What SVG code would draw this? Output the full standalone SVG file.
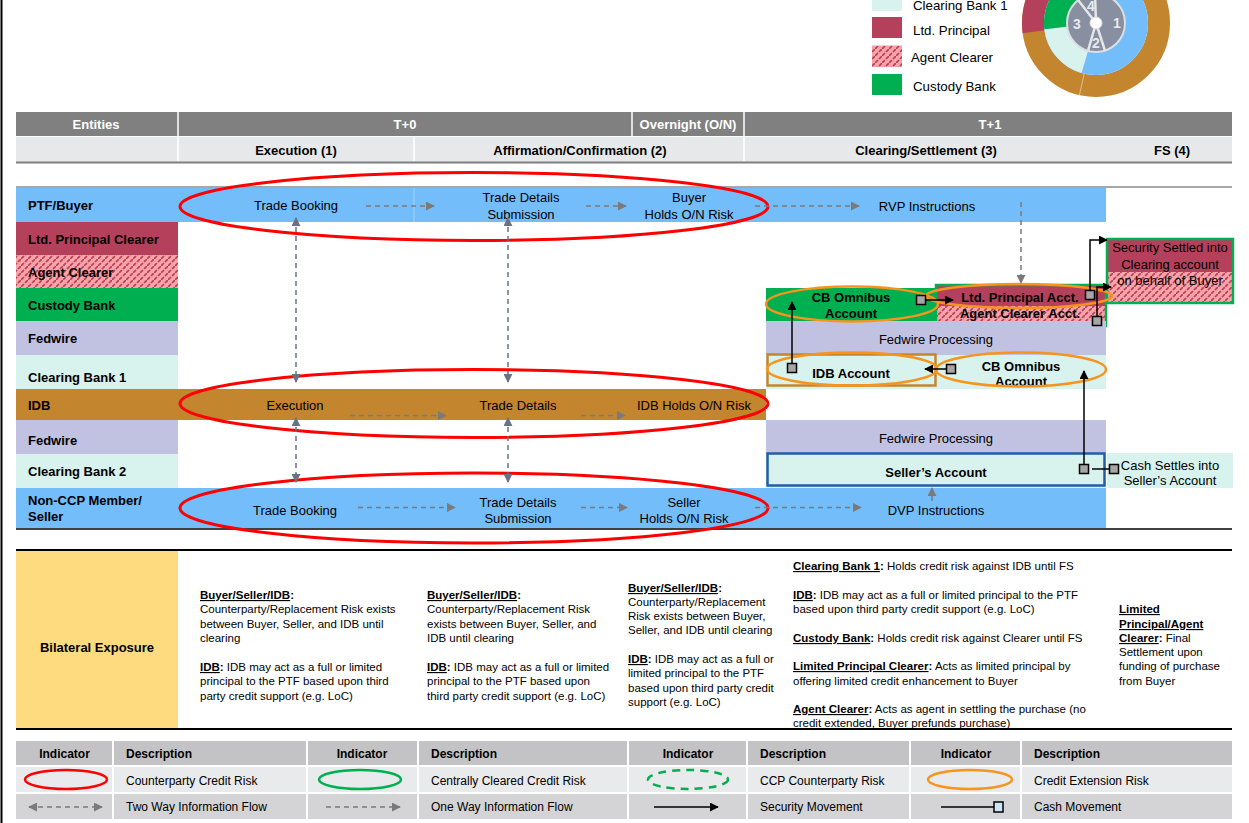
<svg xmlns="http://www.w3.org/2000/svg" width="1249" height="823" viewBox="0 0 1249 823">
<style>
text{font-family:"Liberation Sans",Arial,sans-serif;fill:#000}
.lbl{font-size:13px;font-weight:bold}
.hdr{font-size:13px;font-weight:bold;fill:#fff}
.sub{font-size:13px;font-weight:bold}
.t{font-size:13px;text-anchor:middle}
.tb{font-size:13px;font-weight:bold;text-anchor:middle}
.c{text-anchor:middle}
.b{font-size:11.5px}
.lg{font-size:12px}
.lgh{font-size:12px;font-weight:bold}
.k{font-size:13.3px}
.u{font-weight:bold;text-decoration:underline}
.bo{font-weight:bold}
.dn{font-size:14px;font-weight:bold;fill:#e8eaee}
.dg{stroke:#7a7a7a;stroke-width:1.5;stroke-dasharray:5 4;fill:none}
.ds{stroke:#687285;stroke-width:1.5;stroke-dasharray:5 4;fill:none}
.sl{stroke:#000;stroke-width:1.5;fill:none}
.sq{fill:#a6a6a6;stroke:#000;stroke-width:1.5}
.red{fill:none;stroke:#f00;stroke-width:3}
.org{fill:none;stroke:#f7941d;stroke-width:2.5}
</style>
<defs>
<pattern id="hatch" width="7" height="7" patternUnits="userSpaceOnUse">
<rect width="7" height="7" fill="#f9a3a8"/>
<path d="M0,7L3,4M4,3L7,0" stroke="#b5405b" stroke-width="1.7"/>
</pattern>
<marker id="ag" viewBox="0 0 10 10" refX="9" refY="5" markerWidth="9" markerHeight="9" markerUnits="userSpaceOnUse" orient="auto-start-reverse"><path d="M0,0L10,5L0,10z" fill="#7a7a7a"/></marker>
<marker id="as" viewBox="0 0 10 10" refX="9" refY="5" markerWidth="9" markerHeight="9" markerUnits="userSpaceOnUse" orient="auto-start-reverse"><path d="M0,0L10,5L0,10z" fill="#687285"/></marker>
<marker id="ab" viewBox="0 0 10 10" refX="9" refY="5" markerWidth="9" markerHeight="9" markerUnits="userSpaceOnUse" orient="auto-start-reverse"><path d="M0,0L10,5L0,10z" fill="#000"/></marker>
</defs>
<rect width="1249" height="823" fill="#fff"/>
<line x1="1.5" y1="0" x2="1.5" y2="823" stroke="#000" stroke-width="2"/>

<!-- top legend -->
<g id="top-legend">
<rect x="872" y="-10" width="30" height="21" fill="#d8f2ed"/>
<text class="k" x="913" y="10">Clearing Bank 1</text>
<rect x="872" y="17" width="30" height="21" fill="#b5405b"/>
<text class="k" x="913" y="34.5">Ltd. Principal</text>
<rect x="872" y="45.5" width="30" height="21.5" fill="url(#hatch)"/>
<text class="k" x="911" y="62">Agent Clearer</text>
<rect x="872" y="74" width="30" height="21" fill="#00b050"/>
<text class="k" x="913" y="91">Custody Bank</text>
</g>
<g id="donut">
<circle cx="1096" cy="23" r="63" fill="none" stroke="#c4852f" stroke-width="22"/>
<path d="M1022.7,33.3A74,74 0 0 1 1070.7,-46.5L1078.2,-25.9A52,52 0 0 0 1044.5,30.2Z" fill="#b5405b"/>
<line x1="1084.3" y1="73.6" x2="1079.4" y2="95.1" stroke="#e6c9a0" stroke-width="0.8"/>
<circle cx="1096" cy="23" r="40.5" fill="none" stroke="#74bdfb" stroke-width="23"/>
<path d="M1081.6,73A52,52 0 0 1 1044.4,29.3L1067.2,26.5A29,29 0 0 0 1088,50.9Z" fill="#d8f2ed"/>
<path d="M1044.4,29.3A52,52 0 0 1 1096,-29L1096,-6A29,29 0 0 0 1067.2,26.5Z" fill="#00b050"/>
<circle cx="1096" cy="23" r="29" fill="#878fa0" stroke="#dcdee3" stroke-width="2"/>
<path d="M1096,23L1105,50.6M1096,23L1088,50.9M1096,23L1078.1,0.1M1096,23L1095,-6" stroke="#e4e6ea" stroke-width="2.5"/>
<circle cx="1096" cy="23" r="6" fill="#fff" stroke="#dcdee3"/>
<text class="dn" x="1113" y="28">1</text>
<text class="dn" x="1092" y="48">2</text>
<text class="dn" x="1073" y="29">3</text>
<text class="dn" x="1087" y="11">4</text>
</g>

<!-- header -->
<g id="header">
<rect x="16" y="112" width="1216" height="24" fill="#808080"/>
<rect x="16" y="137" width="1216" height="25" fill="#e7e8ea"/>
<path d="M178,112V136M632,112V136M744,112V136M178,137V161M414,137V161M744,137V161" stroke="#fff" stroke-width="1.5"/>
<line x1="16" y1="162.5" x2="1232" y2="162.5" stroke="#7f7f7f" stroke-width="2"/>
<text class="hdr c" x="96" y="128.5">Entities</text>
<text class="hdr c" x="405" y="128.5">T+0</text>
<text class="hdr c" x="688" y="128.5">Overnight (O/N)</text>
<text class="hdr c" x="990" y="128.5">T+1</text>
<text class="sub c" x="296" y="154.5">Execution (1)</text>
<text class="sub c" x="580" y="154.5">Affirmation/Confirmation (2)</text>
<text class="sub c" x="926" y="154.5">Clearing/Settlement (3)</text>
<text class="sub c" x="1172" y="154.5">FS (4)</text>
<line x1="16" y1="187" x2="1232" y2="187" stroke="#8a8a8a" stroke-width="1.5"/>
</g>

<!-- lanes -->
<g id="lane-ptf">
<rect x="16" y="188" width="1090" height="34" fill="#74bdfb"/>
<line x1="414" y1="188" x2="414" y2="222" stroke="#a6d4fc" stroke-width="1"/>
<text class="lbl" x="28" y="209.5">PTF/Buyer</text>
<text class="t" x="296" y="210">Trade Booking</text>
<text class="t" x="521" y="202">Trade Details</text>
<text class="t" x="521" y="218.5">Submission</text>
<text class="t" x="689" y="202">Buyer</text>
<text class="t" x="689" y="218.5">Holds O/N Risk</text>
<text class="t" x="927" y="210.5">RVP Instructions</text>
</g>
<g id="lane-ltd">
<rect x="16" y="222" width="162" height="33" fill="#b5405b"/>
<text class="lbl" x="28" y="243.5">Ltd. Principal Clearer</text>
</g>
<g id="lane-agent">
<rect x="16" y="255" width="162" height="33" fill="url(#hatch)"/>
<text class="lbl" x="28" y="276.5">Agent Clearer</text>
</g>
<g id="lane-custody">
<rect x="16" y="288" width="162" height="33" fill="#00b050"/>
<text class="lbl" x="28" y="309.5">Custody Bank</text>
</g>
<g id="lane-fedwire1">
<rect x="16" y="321" width="162" height="34" fill="#c1c2e2"/>
<text class="lbl" x="28" y="343">Fedwire</text>
</g>
<g id="lane-cb1">
<rect x="16" y="355" width="162" height="34" fill="#d8f2ed"/>
<text class="lbl" x="28" y="381.5">Clearing Bank 1</text>
</g>
<g id="lane-idb">
<rect x="16" y="389" width="750" height="31" fill="#c4852f"/>
<text class="lbl" x="28" y="409.5">IDB</text>
<text class="t" x="295" y="409.5">Execution</text>
<text class="t" x="518" y="409.5">Trade Details</text>
<text class="t" x="694" y="409.5">IDB Holds O/N Risk</text>
</g>
<g id="lane-fedwire2">
<rect x="16" y="420" width="162" height="34" fill="#c1c2e2"/>
<text class="lbl" x="28" y="444.5">Fedwire</text>
</g>
<g id="lane-cb2">
<rect x="16" y="454" width="162" height="34" fill="#d8f2ed"/>
<text class="lbl" x="28" y="475.5">Clearing Bank 2</text>
</g>
<g id="lane-seller">
<rect x="16" y="488" width="1090" height="40" fill="#74bdfb"/>
<text class="lbl" x="28" y="505">Non-CCP Member/</text>
<text class="lbl" x="28" y="521">Seller</text>
<text class="t" x="295" y="515">Trade Booking</text>
<text class="t" x="518" y="506.5">Trade Details</text>
<text class="t" x="518" y="522.5">Submission</text>
<text class="t" x="684" y="506.5">Seller</text>
<text class="t" x="684" y="522.5">Holds O/N Risk</text>
<text class="t" x="936" y="514.5">DVP Instructions</text>
</g>
<line x1="16" y1="529" x2="1232" y2="529" stroke="#000" stroke-width="1.5"/>

<!-- T+1 nodes -->
<g id="cb-omnibus-custody">
<rect x="766" y="288" width="170" height="33" fill="#00b050"/>
<text class="tb" x="851" y="301.5">CB Omnibus</text>
<text class="tb" x="851" y="317.5">Account</text>
</g>
<g id="clearer-acct">
<rect x="936" y="285" width="170" height="21" fill="#b5405b"/>
<rect x="936" y="306" width="170" height="20" fill="url(#hatch)"/>
<rect x="936" y="285" width="170" height="41" fill="none" stroke="#00b050" stroke-width="2.5"/>
<text class="tb" x="1020" y="301.5">Ltd. Principal Acct.</text>
<text class="tb" x="1020" y="318">Agent Clearer Acct.</text>
</g>
<g id="fedwire-proc-1">
<rect x="766" y="321" width="340" height="34" fill="#c1c2e2"/>
<text class="t" x="936" y="343.5">Fedwire Processing</text>
</g>
<g id="cb1-row">
<rect x="766" y="355" width="340" height="34" fill="#d8f2ed"/>
</g>
<g id="idb-account">
<rect x="767.5" y="354.5" width="168" height="31" fill="none" stroke="#c4852f" stroke-width="2.5"/>
<text class="tb" x="851" y="378">IDB Account</text>
</g>
<g id="cb-omnibus-cb1">
<text class="tb" x="1021" y="370.5">CB Omnibus</text>
<text class="tb" x="1021" y="385.5">Account</text>
</g>
<g id="fedwire-proc-2">
<rect x="766" y="420" width="340" height="34" fill="#c1c2e2"/>
<text class="t" x="936" y="442.5">Fedwire Processing</text>
</g>
<g id="sellers-account">
<rect x="766" y="454" width="340" height="34" fill="#d8f2ed"/>
<rect x="767.5" y="453.5" width="337" height="32" fill="none" stroke="#1f5ea8" stroke-width="2.5"/>
<text class="tb" x="936" y="476.5">Seller’s Account</text>
</g>
<g id="cash-settles">
<rect x="1107" y="453" width="126" height="35" fill="#d8f2ed"/>
<text class="t" x="1170" y="469.5">Cash Settles into</text>
<text class="t" x="1170" y="485">Seller’s Account</text>
</g>
<g id="security-settled">
<rect x="1107" y="239" width="126" height="33" fill="#b5405b"/>
<rect x="1107" y="272" width="126" height="31" fill="url(#hatch)"/>
<rect x="1107" y="239" width="126" height="64" fill="none" stroke="#00b050" stroke-width="2.5"/>
<text class="t" x="1170" y="252">Security Settled into</text>
<text class="t" x="1170" y="268.5">Clearing account</text>
<text class="t" x="1170" y="285">on behalf of Buyer</text>
</g>

<!-- risk ovals -->
<g id="risk-ovals">
<ellipse class="red" cx="474" cy="206.5" rx="294" ry="34"/>
<ellipse class="red" cx="474" cy="403.5" rx="294" ry="34"/>
<ellipse class="red" cx="474" cy="508" rx="294" ry="35"/>
<ellipse class="org" cx="852" cy="304" rx="86" ry="17.5"/>
<ellipse class="org" cx="1019" cy="296" rx="93" ry="12"/>
<ellipse class="org" cx="852" cy="369" rx="85" ry="16.5"/>
<ellipse class="org" cx="1021" cy="369.5" rx="85" ry="17"/>
</g>

<!-- connectors -->
<g id="connectors">
<line class="dg" x1="366" y1="206" x2="434" y2="206" marker-end="url(#ag)"/>
<line class="dg" x1="586" y1="206" x2="626" y2="206" marker-end="url(#ag)"/>
<line class="dg" x1="755" y1="206" x2="859" y2="206" marker-end="url(#ag)"/>
<line class="dg" x1="350" y1="415.5" x2="446" y2="415.5" marker-end="url(#ag)"/>
<line class="dg" x1="581" y1="415.5" x2="625" y2="415.5" marker-end="url(#ag)"/>
<line class="dg" x1="358" y1="507.5" x2="455" y2="507.5" marker-end="url(#ag)"/>
<line class="dg" x1="581" y1="507.5" x2="627" y2="507.5" marker-end="url(#ag)"/>
<line class="dg" x1="755" y1="507.5" x2="861" y2="507.5" marker-end="url(#ag)"/>
<line class="ds" x1="296" y1="218" x2="296" y2="382" marker-start="url(#as)" marker-end="url(#as)"/>
<line class="ds" x1="508" y1="218" x2="508" y2="382" marker-start="url(#as)" marker-end="url(#as)"/>
<line class="ds" x1="296" y1="418" x2="296" y2="482" marker-start="url(#as)" marker-end="url(#as)"/>
<line class="ds" x1="508" y1="418" x2="508" y2="482" marker-start="url(#as)" marker-end="url(#as)"/>
<line class="dg" x1="1021" y1="202" x2="1021" y2="283" marker-end="url(#ag)"/>
<line x1="932" y1="501" x2="932" y2="488" stroke="#7a7a7a" stroke-width="1.5" marker-end="url(#ag)"/>
<!-- security / cash movements -->
<line class="sl" x1="792" y1="368" x2="792" y2="302" marker-end="url(#ab)"/>
<rect class="sq" x="787.5" y="363.5" width="9" height="9"/>
<line class="sl" x1="921" y1="300" x2="953" y2="300" marker-end="url(#ab)"/>
<rect class="sq" x="916.5" y="295.5" width="9" height="9"/>
<path class="sl" d="M1090,295V240H1107" marker-end="url(#ab)"/>
<rect class="sq" x="1085.5" y="290.5" width="9" height="9"/>
<path class="sl" d="M1097,321V287H1111" marker-end="url(#ab)"/>
<rect class="sq" x="1092.5" y="316.5" width="9" height="9"/>
<line class="sl" x1="951" y1="369" x2="925" y2="369" marker-end="url(#ab)"/>
<rect class="sq" x="946.5" y="364.5" width="9" height="9"/>
<line class="sl" x1="1084" y1="469" x2="1084" y2="371" marker-end="url(#ab)"/>
<rect class="sq" x="1079.5" y="464.5" width="9" height="9"/>
<line class="sl" x1="1092" y1="469" x2="1110" y2="469"/>
<rect class="sq" x="1109.5" y="464.5" width="9" height="9"/>
</g>

<!-- bilateral exposure -->
<g id="bilateral">
<line x1="16" y1="550" x2="1232" y2="550" stroke="#000" stroke-width="2"/>
<rect x="16" y="551" width="162" height="177" fill="#fedb7f"/>
<line x1="16" y1="729" x2="1232" y2="729" stroke="#000" stroke-width="2"/>
<text class="sub c" x="97" y="651.5">Bilateral Exposure</text>
<text class="b" x="200" y="599"><tspan class="u">Buyer/Seller/IDB</tspan><tspan class="bo">:</tspan></text>
<text class="b" x="200" y="613">Counterparty/Replacement Risk exists</text>
<text class="b" x="200" y="627.5">between Buyer, Seller, and IDB until</text>
<text class="b" x="200" y="642">clearing</text>
<text class="b" x="200" y="671"><tspan class="u">IDB</tspan><tspan class="bo">:</tspan> IDB may act as a full or limited</text>
<text class="b" x="200" y="685">principal to the PTF based upon third</text>
<text class="b" x="200" y="699.5">party credit support (e.g. LoC)</text>

<text class="b" x="427" y="599"><tspan class="u">Buyer/Seller/IDB</tspan><tspan class="bo">:</tspan></text>
<text class="b" x="427" y="613">Counterparty/Replacement Risk</text>
<text class="b" x="427" y="627.5">exists between Buyer, Seller, and</text>
<text class="b" x="427" y="642">IDB until clearing</text>
<text class="b" x="427" y="671"><tspan class="u">IDB</tspan><tspan class="bo">:</tspan> IDB may act as a full or limited</text>
<text class="b" x="427" y="685">principal to the PTF based upon</text>
<text class="b" x="427" y="699.5">third party credit support (e.g. LoC)</text>

<text class="b" x="628" y="592"><tspan class="u">Buyer/Seller/IDB</tspan><tspan class="bo">:</tspan></text>
<text class="b" x="628" y="606">Counterparty/Replacement</text>
<text class="b" x="628" y="620">Risk exists between Buyer,</text>
<text class="b" x="628" y="634">Seller, and IDB until clearing</text>
<text class="b" x="628" y="663"><tspan class="u">IDB</tspan><tspan class="bo">:</tspan> IDB may act as a full or</text>
<text class="b" x="628" y="677">limited principal to the PTF</text>
<text class="b" x="628" y="692">based upon third party credit</text>
<text class="b" x="628" y="706">support (e.g. LoC)</text>

<text class="b" x="793" y="570"><tspan class="u">Clearing Bank 1</tspan><tspan class="bo">:</tspan> Holds credit risk against IDB until FS</text>
<text class="b" x="793" y="599"><tspan class="u">IDB</tspan><tspan class="bo">:</tspan> IDB may act as a full or limited principal to the PTF</text>
<text class="b" x="793" y="613">based upon third party credit support (e.g. LoC)</text>
<text class="b" x="793" y="642"><tspan class="u">Custody Bank</tspan><tspan class="bo">:</tspan> Holds credit risk against Clearer until FS</text>
<text class="b" x="793" y="670"><tspan class="u">Limited Principal Clearer</tspan><tspan class="bo">:</tspan> Acts as limited principal by</text>
<text class="b" x="793" y="685">offering limited credit enhancement to Buyer</text>
<text class="b" x="793" y="713"><tspan class="u">Agent Clearer</tspan><tspan class="bo">:</tspan> Acts as agent in settling the purchase (no</text>
<text class="b" x="793" y="727">credit extended, Buyer prefunds purchase)</text>

<text class="b" x="1119" y="613"><tspan class="u">Limited</tspan></text>
<text class="b" x="1119" y="628"><tspan class="u">Principal/Agent</tspan></text>
<text class="b" x="1119" y="642"><tspan class="u">Clearer</tspan><tspan class="bo">:</tspan> Final</text>
<text class="b" x="1119" y="656">Settlement upon</text>
<text class="b" x="1119" y="670">funding of purchase</text>
<text class="b" x="1119" y="685">from Buyer</text>
</g>

<!-- indicator legend -->
<g id="indicator-legend">
<rect x="16" y="741" width="1216" height="24" fill="#c3c3c5"/>
<rect x="16" y="767" width="1216" height="25" fill="#e9eaec"/>
<rect x="16" y="794" width="1216" height="25" fill="#d4d4d6"/>
<path d="M113,741V819M307,741V819M418,741V819M628,741V819M747,741V819M910,741V819M1021,741V819" stroke="#fff" stroke-width="2"/>
<text class="lgh c" x="64.5" y="758">Indicator</text>
<text class="lgh" x="126" y="758">Description</text>
<text class="lgh c" x="362" y="758">Indicator</text>
<text class="lgh" x="431" y="758">Description</text>
<text class="lgh c" x="688" y="758">Indicator</text>
<text class="lgh" x="760" y="758">Description</text>
<text class="lgh c" x="966" y="758">Indicator</text>
<text class="lgh" x="1034" y="758">Description</text>
<ellipse cx="66" cy="779.5" rx="41" ry="9.5" fill="none" stroke="#f00" stroke-width="2.5"/>
<text class="lg" x="126" y="785">Counterparty Credit Risk</text>
<ellipse cx="360" cy="779.5" rx="41" ry="9.5" fill="none" stroke="#00b050" stroke-width="2.5"/>
<text class="lg" x="431" y="785">Centrally Cleared Credit Risk</text>
<ellipse cx="688" cy="779.5" rx="40" ry="9.5" fill="none" stroke="#00b050" stroke-width="2.5" stroke-dasharray="8 6"/>
<text class="lg" x="760" y="785">CCP Counterparty Risk</text>
<ellipse cx="970" cy="779.5" rx="42" ry="9.5" fill="none" stroke="#f7941d" stroke-width="2.5"/>
<text class="lg" x="1034" y="785">Credit Extension Risk</text>
<line class="dg" x1="29" y1="807" x2="102" y2="807" marker-start="url(#ag)" marker-end="url(#ag)"/>
<text class="lg" x="126" y="811">Two Way Information Flow</text>
<line class="dg" x1="326" y1="807" x2="400" y2="807" marker-end="url(#ag)"/>
<text class="lg" x="431" y="811">One Way Information Flow</text>
<line class="sl" x1="654" y1="807" x2="718" y2="807" marker-end="url(#ab)"/>
<text class="lg" x="760" y="811">Security Movement</text>
<line class="sl" x1="941" y1="807" x2="994" y2="807"/>
<rect x="994" y="802" width="9" height="10" fill="#cfe5f7" stroke="#000" stroke-width="1.5"/>
<text class="lg" x="1034" y="811">Cash Movement</text>
</g>
</svg>
